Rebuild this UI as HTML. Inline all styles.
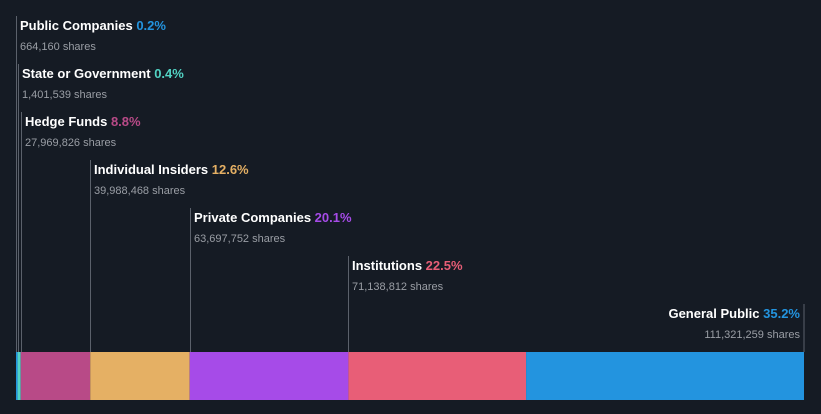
<!DOCTYPE html>
<html><head><meta charset="utf-8"><style>
body{margin:0;background:#151b24;}
svg{display:block;font-family:"Liberation Sans",sans-serif;}
</style></head><body>
<svg id="c" width="821" height="414"></svg>
<script>
const categories=["Public Companies","State or Government","Hedge Funds","Individual Insiders","Private Companies","Institutions","General Public"];
const percents=[0.2,0.4,8.8,12.6,20.1,22.5,35.2];
const shares=["664,160","1,401,539","27,969,826","39,988,468","63,697,752","71,138,812","111,321,259"];
const colors=["#2394df","#52d3c4","#b84a87","#e5b064","#a64be8","#e85e77","#2394df"];
const NS="http://www.w3.org/2000/svg";
const svg=document.getElementById('c');
const x0=16,x1=804,barY=352,barH=48;
const total=percents.reduce((a,b)=>a+b,0);
const sx=v=>x0+(v/total)*(x1-x0);
function mk(t,a){const e=document.createElementNS(NS,t);for(const k in a)e.setAttribute(k,a[k]);svg.appendChild(e);return e;}
let cum=0;
percents.forEach((p,i)=>{
  const xa=sx(cum),xb=sx(cum+p);cum+=p;
  const r=mk('rect',{x:xa,y:barY,width:Math.max(xb-xa,1),height:barH,fill:colors[i]});
  
  
  const top=16+i*48;
  const last=i===percents.length-1;
  const lx=last?x1:Math.round(xa)+0.5;
  const l=mk('line',{x1:lx,x2:lx,y1:top,y2:barY,stroke:'#5b616b','stroke-width':1});
  
  
  const tx=last?x1-4:lx+3.5;
  const anchor=last?'end':'start';
  const t=mk('text',{x:tx,y:top+14,'font-size':13,'font-weight':'bold',fill:'#ffffff','text-anchor':anchor});
  
  
  t.textContent=categories[i]+' ';
  const ts=document.createElementNS(NS,'tspan');ts.setAttribute('fill',colors[i]);ts.textContent=p+'%';t.appendChild(ts);
  const s=mk('text',{x:tx,y:top+34,'font-size':11,fill:'#9a9ea5','text-anchor':anchor});
  
  
  s.textContent=shares[i]+' shares';
});
</script>
</body></html>
